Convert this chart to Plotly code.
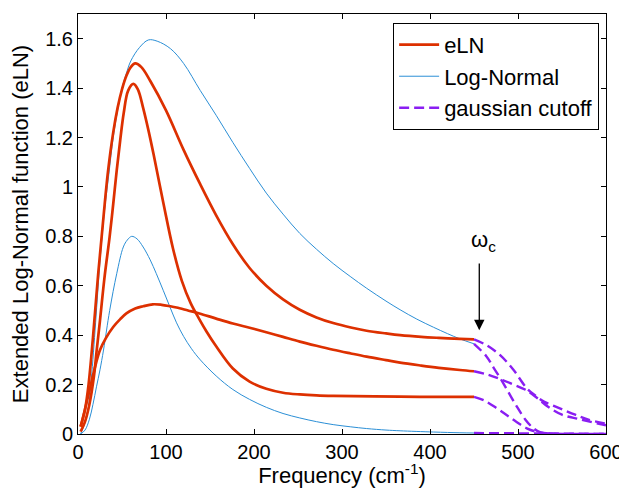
import plotly.graph_objects as go

# eLN curves, three parameter sets
eln1_x = [3, 8, 12, 17, 23, 29, 34, 40, 45, 50, 55, 60, 65, 72, 82, 100, 120, 139, 157, 176, 195,
          214, 233, 252, 271, 290, 310, 328, 350, 366, 390, 410, 434, 450]
eln1_y = [0.03, 0.1, 0.2, 0.39, 0.65, 0.88, 1.06, 1.22, 1.32, 1.395, 1.45, 1.485, 1.5, 1.485, 1.43,
          1.31, 1.15, 1.01, 0.885, 0.768, 0.672, 0.6, 0.545, 0.503, 0.472, 0.449, 0.431, 0.418,
          0.407, 0.4, 0.393, 0.389, 0.385, 0.383]

eln2_x = [3, 8, 13, 18, 21, 25, 30, 36, 40, 44, 48, 52, 57, 63, 68, 74, 80, 86, 97, 108, 118, 128,
          137, 146, 157, 176, 195, 214, 233, 252, 271, 290, 366, 434, 450]
eln2_y = [0.01, 0.05, 0.12, 0.23, 0.33, 0.46, 0.63, 0.8, 0.93, 1.067, 1.19, 1.3, 1.39, 1.417, 1.395,
          1.32, 1.23, 1.13, 0.935, 0.75, 0.62, 0.53, 0.47, 0.415, 0.355, 0.265, 0.212, 0.183, 0.167,
          0.16, 0.156, 0.154, 0.151, 0.15, 0.15]

eln3_x = [3, 8, 14, 20, 25, 32, 40, 48, 55, 65, 74, 85, 95, 105, 112, 125, 138, 157, 176, 195, 214,
          233, 252, 271, 290, 310, 328, 350, 366, 390, 410, 434, 450]
eln3_y = [0.03, 0.1, 0.191, 0.28, 0.34, 0.39, 0.433, 0.465, 0.488, 0.508, 0.517, 0.525, 0.523, 0.517,
          0.512, 0.5, 0.488, 0.467, 0.447, 0.43, 0.412, 0.393, 0.374, 0.357, 0.341, 0.326, 0.313,
          0.299, 0.289, 0.277, 0.268, 0.259, 0.254]

# plain log-normal curves
ln1_x = [3, 10, 15, 20, 25, 30, 35, 40, 45, 50, 55, 60, 70, 80, 90, 105, 120, 139, 157, 176, 195,
         214, 233, 252, 271, 290, 310, 328, 350, 366, 385, 404, 420, 434, 450]
ln1_y = [0.0, 0.07, 0.22, 0.45, 0.7, 0.9, 1.05, 1.2, 1.31, 1.4, 1.46, 1.51, 1.565, 1.595, 1.59, 1.56,
         1.5, 1.39, 1.29, 1.18, 1.075, 0.975, 0.89, 0.812, 0.748, 0.69, 0.636, 0.59, 0.538, 0.503,
         0.465, 0.432, 0.406, 0.385, 0.365]

ln2_x = [3, 8, 13, 17, 21, 25, 29, 36, 44, 51.5, 56, 61, 67, 74, 82, 89, 97, 104.5, 112, 120, 129,
         139, 157, 176, 195, 214, 233, 252, 271, 290, 310, 328, 350, 366, 404, 434, 450]
ln2_y = [0.0, 0.016, 0.06, 0.12, 0.191, 0.26, 0.34, 0.5, 0.649, 0.757, 0.785, 0.8, 0.79, 0.757,
         0.705, 0.649, 0.58, 0.514, 0.45, 0.395, 0.345, 0.3, 0.235, 0.18, 0.14, 0.108, 0.083,
         0.065, 0.05, 0.038, 0.029, 0.022, 0.016, 0.013, 0.008, 0.005, 0.004]

# gaussian cutoff tails past omega_c
g1_x = [450, 465, 480, 495, 510, 521, 530, 540, 552, 565, 580, 600]
g1_y = [0.383, 0.358, 0.318, 0.259, 0.185, 0.152, 0.13, 0.115, 0.097, 0.078, 0.058, 0.042]
g2_x = [450, 464, 472, 480, 489, 498, 508, 517, 525, 540, 570, 600]
g2_y = [0.365, 0.315, 0.27, 0.225, 0.17, 0.115, 0.06, 0.025, 0.008, 0.001, 0.0, 0.0]
g3_x = [450, 466, 480, 495, 508, 521, 535, 550, 570, 600]
g3_y = [0.254, 0.24, 0.222, 0.2, 0.18, 0.148, 0.108, 0.078, 0.06, 0.035]
g4_x = [450, 462, 476, 487, 498, 510, 521, 535, 560, 600]
g4_y = [0.15, 0.135, 0.104, 0.077, 0.05, 0.023, 0.009, 0.002, 0.0, 0.0]
g5_x = [450, 600]
g5_y = [0.004, 0.0]

omega_c = 456
x_ticks = [0, 100, 200, 300, 400, 500, 600]

RED = '#dd3000'
BLUE = '#2b8fd6'
PURPLE = '#8a1ef2'
FONT = 'Liberation Sans, Arial, sans-serif'

fig = go.Figure()

for i, (x, y) in enumerate([(ln1_x, ln1_y), (ln2_x, ln2_y)]):
    fig.add_trace(go.Scatter(x=x, y=y, mode='lines', name='Log-Normal', legendgroup='ln',
                             legendrank=2, showlegend=(i == 0), line_shape='spline',
                             line=dict(color=BLUE, width=1)))

for i, (x, y) in enumerate([(eln1_x, eln1_y), (eln2_x, eln2_y), (eln3_x, eln3_y)]):
    fig.add_trace(go.Scatter(x=x, y=y, mode='lines', name='eLN', legendgroup='eln',
                             legendrank=1, showlegend=(i == 0), line_shape='spline',
                             line=dict(color=RED, width=2.7)))

for i, (x, y) in enumerate([(g1_x, g1_y), (g2_x, g2_y), (g3_x, g3_y), (g4_x, g4_y), (g5_x, g5_y)]):
    fig.add_trace(go.Scatter(x=x, y=y, mode='lines', name='gaussian cutoff', legendgroup='g',
                             legendrank=3, showlegend=(i == 0), line_shape='spline',
                             line=dict(color=PURPLE, width=2.4, dash='10px,5px')))

# omega_c marker
fig.add_annotation(x=omega_c, y=0.42, ax=omega_c, ay=0.696, axref='x', ayref='y', text='',
                   showarrow=True, arrowhead=2, arrowsize=1.6, arrowwidth=1.3, arrowcolor='black')
fig.add_annotation(x=444, y=0.78, text='ω<sub>c</sub>', showarrow=False, xanchor='left',
                   yanchor='middle', font=dict(size=22, color='black', family=FONT))

axis_style = dict(showgrid=False, zeroline=False, showline=True, linecolor='black', linewidth=1,
                  mirror='ticks', ticks='inside', ticklen=5, tickcolor='black', automargin=False,
                  tickfont=dict(size=20, color='black', family=FONT))

fig.update_xaxes(range=[0, 600], tickvals=x_ticks,
                 title=dict(text='Frequency (cm<sup>-1</sup>)', font=dict(size=22, color='black', family=FONT),
                            standoff=0),
                 **axis_style)
fig.update_yaxes(range=[0, 1.7], dtick=0.2, tick0=0,
                 title=dict(text='Extended Log-Normal function (eLN)',
                            font=dict(size=22, color='black', family=FONT), standoff=10),
                 **axis_style)

# the page body adds an 8px margin, so the figure is 8px smaller than the window
fig.update_layout(
    width=619, height=480,
    margin=dict(l=70, r=21, t=6, b=54),
    plot_bgcolor='white', paper_bgcolor='white',
    font=dict(family=FONT, color='black'),
    legend=dict(x=0.987, y=0.979, xanchor='right', yanchor='top', bgcolor='white',
                bordercolor='black', borderwidth=1, font=dict(size=22, color='black', family=FONT),
                itemwidth=40, tracegroupgap=0),
)

fig.write_html("out.html")
